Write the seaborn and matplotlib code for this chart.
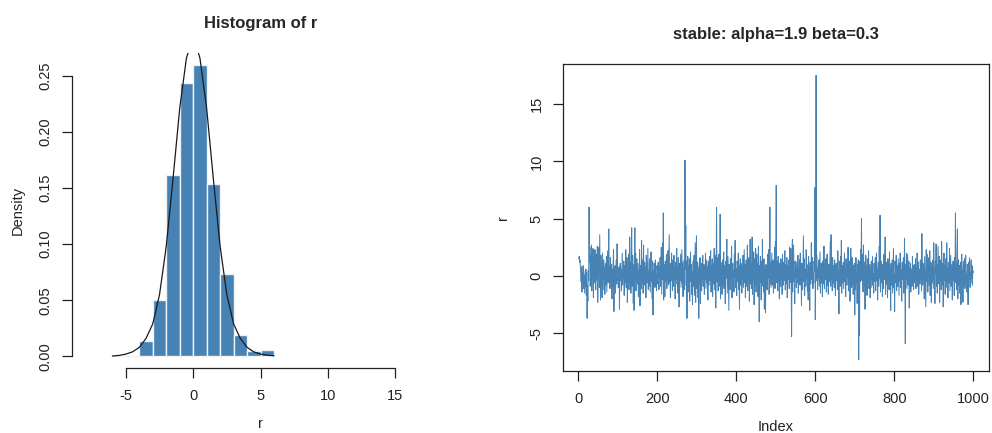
import numpy as np
import matplotlib
matplotlib.use("Agg")
import matplotlib.pyplot as plt
import seaborn as sns

# histogram of r: bin edges and densities
bin_edges = [-6, -5, -4, -3, -2, -1, 0, 1, 2, 3, 4, 5, 6]
bin_density = [0.001, 0.0, 0.014, 0.050, 0.162, 0.244, 0.260, 0.154, 0.073, 0.019, 0.005, 0.006]

# density curve drawn over the histogram
curve_x = [-6, -5.5, -5, -4.5, -4, -3.5, -3, -2.5, -2, -1.5, -1, -0.5, 0,
           0.5, 1, 1.5, 2, 2.5, 3, 3.5, 4, 4.5, 5, 5.5, 6]
curve_y = [0.0003, 0.0008, 0.002, 0.004, 0.008, 0.016, 0.029, 0.055, 0.098, 0.158, 0.221, 0.266, 0.285,
           0.266, 0.221, 0.158, 0.098, 0.055, 0.029, 0.016, 0.008, 0.004, 0.002, 0.001, 0.0005]

hist_xticks = [-5, 0, 5, 10, 15]
hist_yticks = [0.00, 0.05, 0.10, 0.15, 0.20, 0.25]

# the sampled series r (stable: alpha=1.9 beta=0.3), estimated from the right panel
r = [
    1.5, 1.7, 1.2, 1.4, 0.9, 0.3, -0.5, 0.8, -1.4, 0.2, -0.3, 0.9, -1.1, 0.4, -0.6, -1.5, 0.1, -0.9, 0.6, -1.7, 0.3, -3.7, -0.8, -2.2, 0.5, -0.4, 6.0, 1.2, 2.5, -0.9, 1.8, 0.4, 2.7, -1.3, 1.1, -0.2, 2.4, -1.9, 0.7, 1.5, -0.6, 2.3, 0.2, -1.2, 1.9, 0.8, -0.4, 2.6, -2.3, 1.0,
    0.3, 2.5, -1.0, 3.6, 0.6, -2.1, 1.8, -0.7, 0.9, -1.9, 2.0, 0.4, -1.2, 1.4, -0.3, 0.7, -1.6, 1.1, 0.2, -0.8, 1.7, -1.4, 0.5, 2.2, -0.6, 1.3, 4.1, -0.2, 0.8, -1.1, 1.6, 0.1, -0.5, 1.0, -2.0, 0.6, -0.9, 1.2, 2.3, -3.1, 0.4, -0.3, 0.9, -1.5, 0.2, 1.4, -0.7, 2.8, -0.4, 0.5,
    -1.0, 0.3, 0.8, -2.9, 0.1, 1.1, -0.4, 0.6, -1.3, 0.2, 2.0, -0.8, 0.4, -0.2, 1.3, -1.7, 0.5, 0.9, -0.6, 2.3, -1.0, 0.1, 1.6, -2.3, 0.7, -0.1, 1.9, -1.2, 0.4, 3.4, -0.5, 1.2, -1.5, 2.1, 4.2, -0.9, 0.6, 1.8, -2.4, 1.0, -3.0, 0.3, 4.2, -0.4, 2.0, -1.3, 0.8, 1.5, -0.7, 0.2,
    1.1, -1.8, 0.5, -0.2, 2.3, -2.6, 0.9, 0.3, -1.1, 3.1, -0.6, 1.4, 0.2, -1.5, 2.7, 0.6, -0.8, 1.2, -0.3, 0.7, -1.9, 1.8, 0.1, -0.6, 1.0, 2.4, -1.2, 0.4, -0.9, 1.5, 0.0, -1.4, 0.8, 2.1, -0.5, 0.3, -2.0, 1.3, -3.4, 0.5, -0.2, 1.1, 0.6, -1.0, 1.4, -0.4, 0.2, -1.3, 0.9, 0.4,
    -0.7, 1.2, 0.3, -1.2, 0.8, -0.1, 1.6, -0.9, 0.5, 2.5, -1.6, 0.7, 2.8, -0.3, 5.5, -2.1, 1.0, 0.2, -1.8, 1.3, -0.5, 0.6, 1.9, -1.1, 0.4, -0.2, 2.2, -0.8, 1.5, 3.6, -0.6, 0.3, -1.9, 1.1, -0.4, 2.0, 0.7, -1.3, 0.5, 1.4, -0.9, 1.8, -0.2, 0.6, -2.0, 1.2, 0.1, -0.7, 2.4, -0.3,
    0.9, -1.5, 1.6, 0.2, -2.7, 1.1, -0.4, 0.8, 1.9, -1.0, 0.5, 2.3, -0.6, 1.2, -1.8, 0.7, 0.0, 1.4, -1.2, 10.1, 0.6, 4.4, -0.8, 1.3, -3.7, 0.3, 1.7, -1.4, 0.9, -0.2, 1.5, -2.2, 0.8, 2.1, -0.5, 1.0, -1.6, 0.4, -2.5, 1.3, 0.2, -0.9, 1.8, -1.7, 0.6, 2.9, -2.3, 0.1, 3.5, -1.1,
    -0.4, 1.2, -1.9, 0.6, -3.7, 0.9, -0.7, 1.6, -2.4, 0.3, 1.1, -1.3, 0.5, -0.2, 1.8, -0.9, 0.4, 1.0, -1.6, 0.7, -0.3, 2.0, -1.1, 0.2, 1.4, -0.6, 0.8, -2.1, 1.3, 0.1, -0.8, 1.7, -0.4, 0.6, 2.2, -1.4, 0.9, -0.1, 1.5, -1.8, 0.3, 1.1, -0.7, 2.4, -1.2, 0.5, 1.8, -2.8, 1.0, 6.0,
    -0.5, 1.6, 0.2, -1.3, 0.8, 1.9, -0.9, 0.4, 5.4, -2.0, 1.2, -0.3, 0.7, -1.6, 1.4, 0.1, -0.8, 2.1, -1.1, 0.5, 0.9, -2.4, 1.3, -0.2, 0.6, 3.2, -1.5, 0.3, 1.7, -0.7, -3.0, 1.0, 0.4, -1.2, 1.5, -0.4, 0.8, 2.6, -1.9, 0.2, 1.1, -0.6, 0.5, -1.4, 1.9, -0.1, 3.1, -1.0, 0.7, 0.3,
    -1.7, 1.3, 0.6, -0.5, 2.0, -1.2, 0.9, -2.9, 0.4, 1.5, -0.8, 0.2, 1.1, -1.5, 0.7, -0.3, 1.8, -1.0, 0.5, 2.3, -0.6, 1.0, -1.9, 0.3, 1.4, -0.9, 0.1, 2.7, -1.3, 0.8, -0.2, 1.6, -2.2, 0.6, 3.2, -0.7, 1.2, -1.1, 0.4, 3.4, -1.6, 0.9, -0.4, 2.1, -2.5, 0.2, 1.5, -0.8, 2.4, -1.4,
    0.7, 1.9, -0.3, 1.1, -1.8, 2.6, 0.4, -4.0, 0.9, -0.6, 1.7, 0.2, -2.1, 1.3, -0.9, 3.2, -0.5, 0.8, -1.4, 1.5, -2.9, 0.6, 0.1, -3.2, 1.0, -0.4, 0.5, -1.2, 1.9, -0.2, 0.8, 2.3, -1.6, 0.3, 6.0, -0.7, 1.2, -1.0, 0.4, 2.0, -0.8, 0.6, 1.4, -1.5, 0.9, -0.3, 2.5, -1.1, 3.0, 0.5,
    7.9, -0.6, 1.3, 0.2, -1.3, 1.7, -0.5, 0.8, -2.0, 1.1, 0.4, -0.9, 1.5, -0.2, 0.7, -1.6, 1.9, 0.1, -0.8, 1.2, -0.4, 0.6, 2.2, -1.2, 0.3, 1.0, -0.7, 1.6, -1.9, 0.5, 0.9, -0.3, 1.4, -1.1, 2.5, -0.6, 0.2, 2.4, -0.9, -5.3, 1.1, 3.2, -1.4, 0.7, 2.7, -0.5, 0.4, -2.4, 1.3, -0.1,
    0.8, -1.0, 1.2, 0.3, -0.6, 1.8, -1.5, 0.5, 0.0, 1.4, -0.8, 2.0, -0.3, 0.7, -2.6, 1.1, 0.4, -1.2, 0.9, 3.5, -0.5, 1.5, -1.7, 0.2, 0.6, -0.9, 2.3, -0.2, 1.0, -1.3, 0.3, -2.1, 1.7, -0.4, 0.8, -3.0, 1.2, 0.1, -0.7, 2.9, -0.3, 0.5, 1.6, -1.1, 0.2, -0.6, 1.3, 0.4, 7.7, -3.8,
    1.0, 17.5, -0.4, 1.8, 0.3, -1.2, 0.7, -0.2, 1.4, -0.9, 0.5, 2.1, -1.5, 0.2, 1.1, -0.6, 0.8, -1.8, 1.3, 0.0, -0.7, 2.6, -1.1, 0.4, 0.9, -0.3, 1.5, -1.4, 0.6, 1.9, -0.8, 0.3, -1.6, 1.0, 0.5, -0.5, 1.2, 3.0, -0.9, 3.6, -0.2, 0.7, -1.3, 1.6, 0.1, -0.6, 0.9, -1.0, 1.4, 0.3,
    -1.7, 0.6, 1.1, -0.4, 0.8, -1.2, 2.2, 0.2, -0.7, -3.3, 1.3, 0.4, -0.9, 1.7, -0.3, 3.1, -1.5, 0.5, 0.9, -0.6, 1.2, -1.1, 0.3, 2.0, -0.5, 0.7, -1.8, 1.5, 0.1, -0.8, 1.0, -0.2, 2.5, -1.3, 0.6, -0.4, 1.3, -2.2, 0.8, 2.4, 0.2, -1.0, 1.6, -0.7, 0.4, -1.6, 0.9, -0.1, 1.1, -3.4,
    0.5, -1.2, 1.6, -0.6, 0.3, -2.4, 1.0, -0.8, 1.4, -7.3, 0.2, -5.2, 1.3, -0.5, 2.3, 0.6, 5.0, -0.4, 1.9, 0.8, -1.4, 2.7, 0.3, -0.9, 1.2, -2.9, 0.6, 1.8, -0.3, 0.9, -1.7, 1.5, 0.1, -0.6, 2.2, -1.1, 0.4, 1.0, -1.9, 0.7, -0.2, 1.3, -1.0, 0.5, 1.7, -0.8, 0.2, -1.5, 1.1, 0.4,
    -0.5, 1.6, -1.3, 0.8, 2.0, -0.4, 0.6, -2.1, 1.2, 0.1, -0.9, 2.6, -0.2, 5.3, -1.4, 0.7, 1.3, -0.6, 0.3, -1.8, 1.0, 0.4, -1.1, 1.9, -0.3, 0.8, 3.4, -1.6, 0.5, 1.2, -0.7, 0.2, -1.9, 1.5, -0.1, 0.9, -1.2, 2.1, -0.5, 0.6, -3.0, 1.1, 0.3, -0.8, 1.4, -1.5, 0.7, 2.4, -1.0, 0.2,
    -3.1, 1.3, 0.5, -0.6, 1.8, -1.3, 0.4, 0.9, -0.9, 1.5, 0.0, -1.7, 1.1, -0.4, 2.0, -1.0, 0.6, 0.2, -2.2, 1.2, -0.3, 0.8, 1.6, -1.5, 0.3, 3.3, -0.7, -5.9, 1.0, -0.2, 2.0, -1.1, 0.5, 1.9, -0.8, 0.1, 1.3, -2.8, 0.7, -0.4, 1.1, -1.4, 0.6, 0.2, -0.9, 1.7, -0.5, 0.9, -1.2, 0.4,
    1.0, -0.6, 0.3, 1.5, -1.1, 0.7, -0.2, 2.0, -0.9, 0.4, 1.2, -1.6, 0.6, 0.1, -0.7, 1.4, -0.3, 0.9, -1.3, 3.7, 0.2, -0.8, 1.1, -0.4, 0.6, -2.0, 1.7, 0.3, -1.0, -2.7, 2.3, -0.5, 0.8, 1.9, -1.4, 0.4, -0.1, 1.6, -0.8, 2.2, -1.7, 0.5, 1.2, -2.3, 0.9, -0.6, 1.4, 0.1, -1.1, 2.9,
    -0.3, 0.7, -2.4, 1.3, 0.2, 2.8, -0.9, 1.0, -1.5, 0.5, 2.6, -0.7, 0.3, 1.7, -2.3, 0.8, -0.2, 1.4, -1.2, 3.0, 0.4, -0.8, 1.1, -2.7, 0.6, 2.0, -0.4, 0.9, -1.6, 1.5, 0.1, -1.0, 2.9, -0.5, 0.7, -1.9, 1.2, 0.3, -0.6, 2.4, -1.3, 0.5, 1.8, -0.9, 0.2, 1.0, -2.1, 0.6, 1.3, -0.4,
    0.8, -1.7, 1.6, 0.2, 5.5, -0.6, 1.1, -1.2, 2.2, 4.1, -2.0, 0.4, 1.4, -0.8, 0.9, -1.5, 0.3, 1.2, -2.5, 0.7, 1.9, -0.4, 0.5, -2.3, 1.3, 0.1, -0.9, 1.5, -1.1, 0.6, 1.8, -0.7, 0.2, -1.4, 1.0, 0.4, -2.5, 1.2, -0.3, 0.8, 1.6, -1.0, 0.3, -0.6, 1.4, -0.2, 0.9, -0.8, 0.5, 0.3,
]
index = np.arange(1, len(r) + 1)

series_xticks = [0, 200, 400, 600, 800, 1000]
series_yticks = [-5, 0, 5, 10, 15]

sns.set_style("ticks")
plt.rcParams["font.family"] = ["Liberation Sans", "DejaVu Sans"]
plt.rcParams["axes.unicode_minus"] = False

fig = plt.figure(figsize=(9.92, 4.33), dpi=100)
W, H = 992, 433

# axes placed in pixel units to match the R layout
ax1 = fig.add_axes([72 / W, (H - 368) / H, (449 - 72) / W, (368 - 53) / H])
ax2 = fig.add_axes([563 / W, (H - 371) / H, (989 - 563) / W, (371 - 64) / H])

ink = "#222222"
steel = "#4682B4"

# ---- left: histogram with density curve
mids = [(a + b) / 2 for a, b in zip(bin_edges[:-1], bin_edges[1:])]
sns.histplot(x=mids, weights=bin_density, bins=bin_edges, color=steel,
             edgecolor="#EEF2F7", linewidth=1.0, alpha=1.0, ax=ax1)
sns.lineplot(x=curve_x, y=curve_y, color="#1a1a1a", linewidth=0.9, ax=ax1)

ax1.set_xlim(-9, 19)
ax1.set_ylim(-0.0104, 0.2704)
ax1.set_xticks(hist_xticks)
ax1.set_yticks(hist_yticks)
ax1.set_yticklabels([f"{v:.2f}" for v in hist_yticks])
for side in ["top", "right"]:
    ax1.spines[side].set_visible(False)
ax1.spines["bottom"].set_bounds(-5, 15)
ax1.spines["left"].set_bounds(0, 0.25)
ax1.set_title("Histogram of r", fontsize=12, fontweight="bold", pad=18)
ax1.set_xlabel("r", fontsize=10.5, color=ink, labelpad=10)
ax1.set_ylabel("Density", fontsize=10.5, color=ink, labelpad=10)

# ---- right: the series against its index
sns.lineplot(x=index, y=r, color=steel, linewidth=0.7, ax=ax2)
ax2.set_xlim(-39, 1040)
ax2.set_ylim(-8.29, 18.49)
ax2.set_xticks(series_xticks)
ax2.set_yticks(series_yticks)
ax2.set_title("stable: alpha=1.9 beta=0.3", fontsize=12, fontweight="bold", pad=18)
ax2.set_xlabel("Index", fontsize=10.5, color=ink, labelpad=10)
ax2.set_ylabel("r", fontsize=10.5, color=ink, labelpad=14)

for ax in (ax1, ax2):
    for s in ax.spines.values():
        s.set_color(ink)
        s.set_linewidth(0.9)
    ax.tick_params(axis="both", length=7, width=0.9, color=ink, labelcolor=ink,
                   labelsize=10.5, direction="out")
    ax.tick_params(axis="x", pad=8)
    ax.tick_params(axis="y", pad=7)
    for lab in ax.get_yticklabels():
        lab.set_rotation(90)
        lab.set_va("center")
    ax.grid(False)

fig.savefig("out.png", dpi=100)
